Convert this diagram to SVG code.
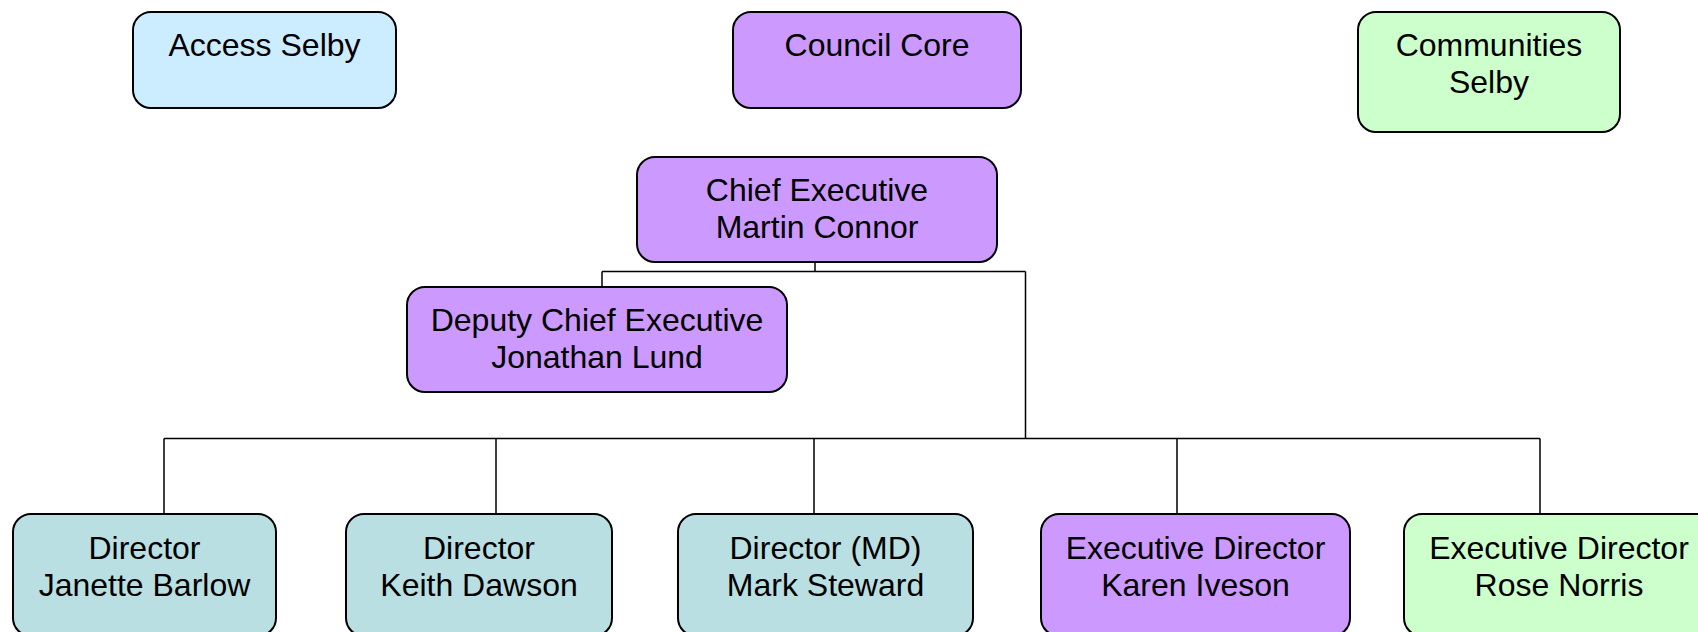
<svg xmlns="http://www.w3.org/2000/svg" width="1698" height="632" viewBox="0 0 1698 632">
<style>
.box{stroke:#000;stroke-width:2}
.blue{fill:#CCECFF}
.purple{fill:#CC99FF}
.green{fill:#CCFFCC}
.teal{fill:#B9DFE3}
text{font-family:"Liberation Sans",Arial,sans-serif;font-size:32px;fill:#000;text-anchor:middle}
.conn{stroke:#000;stroke-width:1.5;fill:none}
</style>
<rect width="1698" height="632" fill="#fff"/>
<g id="connectors">
<path class="conn" d="M815 262V271.5M602 271.5H1025.5M602 271.5V287M1025.5 271.5V438.5M164 438.5H1540M164 438.5V514M496 438.5V514M814 438.5V514M1177 438.5V514M1540 438.5V514"/>
</g>
<g id="access-selby">
<rect class="box blue" x="133" y="12" width="263" height="96" rx="18"/>
<text x="264.5" y="56">Access Selby</text>
</g>
<g id="council-core">
<rect class="box purple" x="733" y="12" width="288" height="96" rx="18"/>
<text x="877" y="56">Council Core</text>
</g>
<g id="communities-selby">
<rect class="box green" x="1358" y="12" width="262" height="120" rx="18"/>
<text x="1489" y="56">Communities</text>
<text x="1489" y="93">Selby</text>
</g>
<g id="chief-executive">
<rect class="box purple" x="637" y="157" width="360" height="105" rx="18"/>
<text x="817" y="201">Chief Executive</text>
<text x="817" y="238">Martin Connor</text>
</g>
<g id="deputy-chief-executive">
<rect class="box purple" x="407" y="287" width="380" height="105" rx="18"/>
<text x="597" y="331">Deputy Chief Executive</text>
<text x="597" y="368">Jonathan Lund</text>
</g>
<g id="janette-barlow">
<rect class="box teal" x="13" y="514" width="263" height="122" rx="18"/>
<text x="144.5" y="559">Director</text>
<text x="144.5" y="596">Janette Barlow</text>
</g>
<g id="keith-dawson">
<rect class="box teal" x="346" y="514" width="266" height="122" rx="18"/>
<text x="479" y="559">Director</text>
<text x="479" y="596">Keith Dawson</text>
</g>
<g id="mark-steward">
<rect class="box teal" x="678" y="514" width="295" height="122" rx="18"/>
<text x="825.5" y="559">Director (MD)</text>
<text x="825.5" y="596">Mark Steward</text>
</g>
<g id="karen-iveson">
<rect class="box purple" x="1041" y="514" width="309" height="122" rx="18"/>
<text x="1195.5" y="559">Executive Director</text>
<text x="1195.5" y="596">Karen Iveson</text>
</g>
<g id="rose-norris">
<rect class="box green" x="1404" y="514" width="310" height="122" rx="18"/>
<text x="1559" y="559">Executive Director</text>
<text x="1559" y="596">Rose Norris</text>
</g>
</svg>
